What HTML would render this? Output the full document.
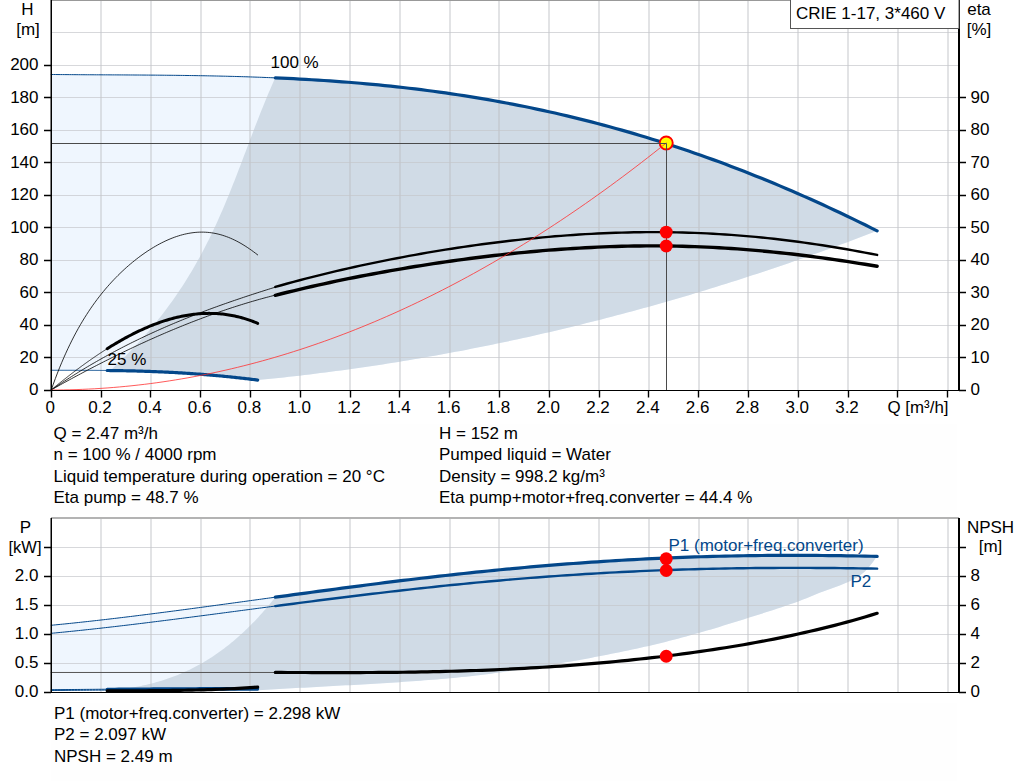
<!DOCTYPE html><html><head><meta charset="utf-8"><style>html,body{margin:0;padding:0;background:#fff;width:1024px;height:781px;overflow:hidden}svg{display:block}text{font-family:"Liberation Sans",sans-serif;font-size:17px;fill:#000}</style></head><body>
<svg width="1024" height="781" viewBox="0 0 1024 781">
<rect x="51" y="424" width="906" height="90" fill="#fefefe"/>
<rect x="51" y="703" width="906" height="78" fill="#fefefe"/>
<polygon points="51.20,74.49 58.14,74.55 65.08,74.61 72.02,74.66 78.96,74.70 85.90,74.74 92.84,74.78 99.78,74.81 106.72,74.85 113.67,74.88 120.61,74.92 127.55,74.96 134.49,75.00 141.43,75.04 148.37,75.09 155.31,75.14 162.25,75.20 169.19,75.27 176.13,75.35 183.07,75.44 190.01,75.53 196.95,75.64 203.89,75.76 210.83,75.89 217.77,76.04 224.72,76.20 231.66,76.37 238.60,76.56 245.54,76.77 252.48,76.99 259.42,77.24 266.36,77.50 273.30,77.78 280.24,78.08 287.18,78.41 294.12,78.75 301.06,79.12 308.00,79.51 314.94,79.93 321.88,80.37 328.82,80.83 335.77,81.32 342.71,81.84 349.65,82.38 356.59,82.95 363.53,83.55 370.47,84.18 377.41,84.84 384.35,85.52 391.29,86.24 398.23,86.99 405.17,87.77 412.11,88.58 419.05,89.42 425.99,90.30 432.93,91.21 439.87,92.15 446.81,93.13 453.76,94.14 460.70,95.19 467.64,96.27 474.58,97.39 481.52,98.55 488.46,99.74 495.40,100.97 502.34,102.23 509.28,103.53 516.22,104.87 523.16,106.25 530.10,107.67 537.04,109.13 543.98,110.62 550.92,112.16 557.86,113.73 564.81,115.35 571.75,117.00 578.69,118.70 585.63,120.43 592.57,122.21 599.51,124.02 606.45,125.88 613.39,127.78 620.33,129.72 627.27,131.70 634.21,133.72 641.15,135.79 648.09,137.90 655.03,140.05 661.97,142.24 668.91,144.47 675.86,146.74 682.80,149.06 689.74,151.42 696.68,153.82 703.62,156.26 710.56,158.75 717.50,161.28 724.44,163.85 731.38,166.46 738.32,169.11 745.26,171.81 752.20,174.55 759.14,177.33 766.08,180.15 773.02,183.01 779.96,185.92 786.91,188.87 793.85,191.85 800.79,194.88 807.73,197.95 814.67,201.06 821.61,204.21 828.55,207.40 835.49,210.63 842.43,213.91 849.37,217.22 856.31,220.57 863.25,223.96 870.19,227.38 877.13,230.85 877.13,230.85 871.93,232.85 866.72,234.84 861.52,236.81 856.31,238.77 851.11,240.72 845.90,242.66 840.69,244.58 835.49,246.49 830.28,248.39 825.08,250.28 819.87,252.15 814.67,254.01 809.46,255.86 804.26,257.70 799.05,259.52 793.85,261.33 788.64,263.13 783.43,264.91 778.23,266.68 773.02,268.44 767.82,270.19 762.61,271.92 757.41,273.65 752.20,275.36 747.00,277.05 741.79,278.74 736.59,280.41 731.38,282.06 726.17,283.71 720.97,285.34 715.76,286.96 710.56,288.57 705.35,290.17 700.15,291.75 694.94,293.32 689.74,294.88 684.53,296.42 679.33,297.95 674.12,299.47 668.91,300.98 663.71,302.47 658.50,303.95 653.30,305.42 648.09,306.88 642.89,308.32 637.68,309.75 632.48,311.17 627.27,312.58 622.07,313.97 616.86,315.35 611.65,316.72 606.45,318.07 601.24,319.42 596.04,320.75 590.83,322.06 585.63,323.37 580.42,324.66 575.22,325.94 570.01,327.20 564.81,328.46 559.60,329.70 554.39,330.93 549.19,332.14 543.98,333.35 538.78,334.54 533.57,335.71 528.37,336.88 523.16,338.03 517.96,339.17 512.75,340.30 507.55,341.41 502.34,342.52 497.13,343.61 491.93,344.68 486.72,345.75 481.52,346.80 476.31,347.84 471.11,348.86 465.90,349.88 460.70,350.88 455.49,351.87 450.29,352.84 445.08,353.81 439.87,354.76 434.67,355.69 429.46,356.62 424.26,357.53 419.05,358.43 413.85,359.32 408.64,360.19 403.44,361.05 398.23,361.90 393.03,362.74 387.82,363.56 382.61,364.38 377.41,365.17 372.20,365.96 367.00,366.73 361.79,367.49 356.59,368.24 351.38,368.98 346.18,369.70 340.97,370.41 335.77,371.11 330.56,371.79 325.35,372.47 320.15,373.12 314.94,373.77 309.74,374.41 304.53,375.03 299.33,375.64 294.12,376.23 288.92,376.82 283.71,377.39 278.51,377.95 273.30,378.49 268.09,379.02 262.89,379.55 257.68,380.05 257.68,380.05 255.95,379.84 254.21,379.62 252.48,379.41 250.74,379.20 249.01,378.99 247.27,378.79 245.54,378.59 243.80,378.39 242.07,378.19 240.33,378.00 238.60,377.81 236.86,377.62 235.13,377.43 233.39,377.24 231.66,377.06 229.92,376.88 228.19,376.71 226.45,376.53 224.72,376.36 222.98,376.19 221.25,376.03 219.51,375.87 217.77,375.70 216.04,375.55 214.30,375.39 212.57,375.24 210.83,375.09 209.10,374.94 207.36,374.80 205.63,374.65 203.89,374.51 202.16,374.38 200.42,374.24 198.69,374.11 196.95,373.98 195.22,373.86 193.48,373.73 191.75,373.61 190.01,373.49 188.28,373.38 186.54,373.26 184.81,373.15 183.07,373.04 181.34,372.94 179.60,372.83 177.87,372.73 176.13,372.63 174.40,372.54 172.66,372.45 170.93,372.35 169.19,372.27 167.46,372.18 165.72,372.10 163.98,372.01 162.25,371.94 160.51,371.86 158.78,371.78 157.04,371.71 155.31,371.64 153.57,371.57 151.84,371.51 150.10,371.45 148.37,371.38 146.63,371.33 144.90,371.27 143.16,371.21 141.43,371.16 139.69,371.11 137.96,371.06 136.22,371.02 134.49,370.97 132.75,370.93 131.02,370.89 129.28,370.85 127.55,370.81 125.81,370.77 124.08,370.74 122.34,370.71 120.61,370.68 118.87,370.65 117.14,370.62 115.40,370.59 113.67,370.57 111.93,370.55 110.20,370.53 108.46,370.51 106.72,370.49 104.99,370.47 103.25,370.45 101.52,370.44 99.78,370.42 98.05,370.41 96.31,370.40 94.58,370.39 92.84,370.38 91.11,370.37 89.37,370.36 87.64,370.35 85.90,370.35 84.17,370.34 82.43,370.33 80.70,370.33 78.96,370.33 77.23,370.32 75.49,370.32 73.76,370.31 72.02,370.31 70.29,370.31 68.55,370.31 66.82,370.31 65.08,370.30 63.35,370.30 61.61,370.30 59.88,370.30 58.14,370.29 56.41,370.29 54.67,370.29 52.94,370.28 51.20,370.28" fill="#eff6fe"/>
<polygon points="275.30,77.87 280.36,78.09 285.41,78.32 290.47,78.57 295.53,78.83 300.59,79.10 305.64,79.38 310.70,79.67 315.76,79.98 320.82,80.30 325.87,80.63 330.93,80.98 335.99,81.34 341.05,81.71 346.10,82.10 351.16,82.50 356.22,82.92 361.28,83.35 366.33,83.80 371.39,84.27 376.45,84.74 381.51,85.24 386.56,85.75 391.62,86.28 396.68,86.82 401.74,87.38 406.79,87.96 411.85,88.55 416.91,89.16 421.97,89.79 427.02,90.43 432.08,91.10 437.14,91.78 442.19,92.48 447.25,93.19 452.31,93.93 457.37,94.68 462.42,95.46 467.48,96.25 472.54,97.06 477.60,97.89 482.65,98.74 487.71,99.61 492.77,100.50 497.83,101.40 502.88,102.33 507.94,103.28 513.00,104.25 518.06,105.24 523.11,106.24 528.17,107.27 533.23,108.32 538.29,109.39 543.34,110.48 548.40,111.60 553.46,112.73 558.52,113.88 563.57,115.06 568.63,116.25 573.69,117.47 578.75,118.71 583.80,119.97 588.86,121.25 593.92,122.56 598.97,123.88 604.03,125.23 609.09,126.60 614.15,127.99 619.20,129.40 624.26,130.84 629.32,132.29 634.38,133.77 639.43,135.27 644.49,136.80 649.55,138.34 654.61,139.91 659.66,141.50 664.72,143.11 669.78,144.75 674.84,146.41 679.89,148.09 684.95,149.79 690.01,151.51 695.07,153.26 700.12,155.03 705.18,156.82 710.24,158.63 715.30,160.47 720.35,162.33 725.41,164.21 730.47,166.11 735.53,168.04 740.58,169.99 745.64,171.96 750.70,173.95 755.75,175.97 760.81,178.00 765.87,180.06 770.93,182.15 775.98,184.25 781.04,186.37 786.10,188.52 791.16,190.69 796.21,192.88 801.27,195.09 806.33,197.33 811.39,199.59 816.44,201.86 821.50,204.16 826.56,206.48 831.62,208.83 836.67,211.19 841.73,213.57 846.79,215.98 851.85,218.41 856.90,220.85 861.96,223.32 867.02,225.81 872.08,228.32 877.13,230.85 877.13,230.85 871.93,232.85 866.72,234.84 861.52,236.81 856.31,238.77 851.11,240.72 845.90,242.66 840.69,244.58 835.49,246.49 830.28,248.39 825.08,250.28 819.87,252.15 814.67,254.01 809.46,255.86 804.26,257.70 799.05,259.52 793.85,261.33 788.64,263.13 783.43,264.91 778.23,266.68 773.02,268.44 767.82,270.19 762.61,271.92 757.41,273.65 752.20,275.36 747.00,277.05 741.79,278.74 736.59,280.41 731.38,282.06 726.17,283.71 720.97,285.34 715.76,286.96 710.56,288.57 705.35,290.17 700.15,291.75 694.94,293.32 689.74,294.88 684.53,296.42 679.33,297.95 674.12,299.47 668.91,300.98 663.71,302.47 658.50,303.95 653.30,305.42 648.09,306.88 642.89,308.32 637.68,309.75 632.48,311.17 627.27,312.58 622.07,313.97 616.86,315.35 611.65,316.72 606.45,318.07 601.24,319.42 596.04,320.75 590.83,322.06 585.63,323.37 580.42,324.66 575.22,325.94 570.01,327.20 564.81,328.46 559.60,329.70 554.39,330.93 549.19,332.14 543.98,333.35 538.78,334.54 533.57,335.71 528.37,336.88 523.16,338.03 517.96,339.17 512.75,340.30 507.55,341.41 502.34,342.52 497.13,343.61 491.93,344.68 486.72,345.75 481.52,346.80 476.31,347.84 471.11,348.86 465.90,349.88 460.70,350.88 455.49,351.87 450.29,352.84 445.08,353.81 439.87,354.76 434.67,355.69 429.46,356.62 424.26,357.53 419.05,358.43 413.85,359.32 408.64,360.19 403.44,361.05 398.23,361.90 393.03,362.74 387.82,363.56 382.61,364.38 377.41,365.17 372.20,365.96 367.00,366.73 361.79,367.49 356.59,368.24 351.38,368.98 346.18,369.70 340.97,370.41 335.77,371.11 330.56,371.79 325.35,372.47 320.15,373.12 314.94,373.77 309.74,374.41 304.53,375.03 299.33,375.64 294.12,376.23 288.92,376.82 283.71,377.39 278.51,377.95 273.30,378.49 268.09,379.02 262.89,379.55 257.68,380.05 257.68,380.05 256.42,379.90 255.15,379.74 253.89,379.58 252.63,379.43 251.36,379.28 250.10,379.12 248.83,378.97 247.57,378.82 246.30,378.68 245.04,378.53 243.78,378.39 242.51,378.24 241.25,378.10 239.98,377.96 238.72,377.82 237.45,377.68 236.19,377.54 234.92,377.41 233.66,377.27 232.40,377.14 231.13,377.01 229.87,376.88 228.60,376.75 227.34,376.62 226.07,376.50 224.81,376.37 223.55,376.25 222.28,376.13 221.02,376.01 219.75,375.89 218.49,375.77 217.22,375.65 215.96,375.54 214.70,375.43 213.43,375.31 212.17,375.20 210.90,375.09 209.64,374.99 208.37,374.88 207.11,374.78 205.84,374.67 204.58,374.57 203.32,374.47 202.05,374.37 200.79,374.27 199.52,374.17 198.26,374.08 196.99,373.99 195.73,373.89 194.47,373.80 193.20,373.71 191.94,373.62 190.67,373.54 189.41,373.45 188.14,373.37 186.88,373.28 185.62,373.20 184.35,373.12 183.09,373.04 181.82,372.97 180.56,372.89 179.29,372.82 178.03,372.74 176.76,372.67 175.50,372.60 174.24,372.53 172.97,372.46 171.71,372.40 170.44,372.33 169.18,372.27 167.91,372.20 166.65,372.14 165.39,372.08 164.12,372.02 162.86,371.96 161.59,371.91 160.33,371.85 159.06,371.80 157.80,371.74 156.53,371.69 155.27,371.64 154.01,371.59 152.74,371.54 151.48,371.50 150.21,371.45 148.95,371.40 147.68,371.36 146.42,371.32 145.16,371.28 143.89,371.24 142.63,371.20 141.36,371.16 140.10,371.12 138.83,371.09 137.57,371.05 136.31,371.02 135.04,370.98 133.78,370.95 132.51,370.92 131.25,370.89 129.98,370.86 128.72,370.83 127.45,370.81 126.19,370.78 124.93,370.76 123.66,370.73 122.40,370.71 121.13,370.69 119.87,370.66 118.60,370.64 117.34,370.62 116.08,370.60 114.81,370.59 113.55,370.57 112.28,370.55 111.02,370.54 109.75,370.52 108.49,370.51 107.22,370.49 110.43,370.49 113.09,368.03 115.71,365.57 118.30,363.11 120.84,360.66 123.35,358.20 125.82,355.74 128.26,353.28 130.66,350.82 133.02,348.36 135.35,345.90 137.65,343.44 139.91,340.98 142.14,338.52 144.33,336.07 146.49,333.61 148.62,331.15 150.71,328.69 152.78,326.23 154.81,323.77 156.82,321.31 158.79,318.85 160.73,316.39 162.64,313.93 164.53,311.47 166.39,309.02 168.21,306.56 170.01,304.10 171.79,301.64 173.53,299.18 175.25,296.72 176.95,294.26 178.61,291.80 180.26,289.34 181.87,286.88 183.47,284.43 185.04,281.97 186.59,279.51 188.11,277.05 189.61,274.59 191.09,272.13 192.55,269.67 193.99,267.21 195.40,264.75 196.80,262.29 198.18,259.84 199.53,257.38 200.87,254.92 202.19,252.46 203.49,250.00 204.77,247.54 206.04,245.08 207.29,242.62 208.52,240.16 209.73,237.70 210.94,235.25 212.12,232.79 213.29,230.33 214.45,227.87 215.59,225.41 216.72,222.95 217.84,220.49 218.94,218.03 220.03,215.57 221.11,213.11 222.18,210.65 223.24,208.20 224.29,205.74 225.33,203.28 226.36,200.82 227.37,198.36 228.39,195.90 229.39,193.44 230.38,190.98 231.37,188.52 232.35,186.06 233.32,183.61 234.29,181.15 235.25,178.69 236.21,176.23 237.16,173.77 238.11,171.31 239.06,168.85 240.00,166.39 240.94,163.93 241.87,161.47 242.80,159.02 243.73,156.56 244.66,154.10 245.59,151.64 246.52,149.18 247.45,146.72 248.38,144.26 249.31,141.80 250.24,139.34 251.17,136.88 252.11,134.42 253.05,131.97 253.99,129.51 254.93,127.05 255.88,124.59 256.83,122.13 257.79,119.67 258.75,117.21 259.72,114.75 260.70,112.29 261.68,109.83 262.67,107.38 263.66,104.92 264.66,102.46 265.67,100.00 266.69,97.54 267.72,95.08 268.76,92.62 269.81,90.16 270.87,87.70 271.94,85.24 273.02,82.79 274.11,80.33 275.22,77.87" fill="#d0dbe6"/>
<path d="M101 1V390M151 1V390M201 1V390M250 1V390M300 1V390M350 1V390M400 1V390M450 1V390M499 1V390M549 1V390M599 1V390M649 1V390M699 1V390M748 1V390M798 1V390M848 1V390M898 1V390M948 1V390" stroke="#b9bcc0" stroke-opacity="0.42" stroke-width="2" fill="none"/>
<path d="M52 357.5H958M52 325.5H958M52 292.5H958M52 260.5H958M52 227.5H958M52 195.5H958M52 162.5H958M52 130.5H958M52 97.5H958M52 65.5H958M52 32.5H958" stroke="#c4c6ca" stroke-opacity="0.68" stroke-width="1" fill="none"/>
<path d="M51 0.5H959" stroke="#999" stroke-width="1"/>
<path d="M51.20 74.49L53.46 74.51L55.73 74.53L57.99 74.55L60.25 74.57L62.52 74.59L64.78 74.60L67.05 74.62L69.31 74.64L71.57 74.65L73.84 74.67L76.10 74.68L78.36 74.70L80.63 74.71L82.89 74.72L85.15 74.74L87.42 74.75L89.68 74.76L91.95 74.77L94.21 74.79L96.47 74.80L98.74 74.81L101.00 74.82L103.26 74.83L105.53 74.84L107.79 74.85L110.05 74.86L112.32 74.88L114.58 74.89L116.85 74.90L119.11 74.91L121.37 74.92L123.64 74.93L125.90 74.95L128.16 74.96L130.43 74.97L132.69 74.98L134.95 75.00L137.22 75.01L139.48 75.03L141.75 75.04L144.01 75.06L146.27 75.07L148.54 75.09L150.80 75.11L153.06 75.12L155.33 75.14L157.59 75.16L159.85 75.18L162.12 75.20L164.38 75.22L166.65 75.25L168.91 75.27L171.17 75.29L173.44 75.32L175.70 75.34L177.96 75.37L180.23 75.40L182.49 75.43L184.75 75.46L187.02 75.49L189.28 75.52L191.55 75.55L193.81 75.59L196.07 75.62L198.34 75.66L200.60 75.70L202.86 75.74L205.13 75.78L207.39 75.82L209.65 75.87L211.92 75.91L214.18 75.96L216.45 76.01L218.71 76.06L220.97 76.11L223.24 76.16L225.50 76.21L227.76 76.27L230.03 76.33L232.29 76.39L234.55 76.45L236.82 76.51L239.08 76.58L241.35 76.64L243.61 76.71L245.87 76.78L248.14 76.85L250.40 76.93L252.66 77.00L254.93 77.08L257.19 77.16L259.45 77.24L261.72 77.32L263.98 77.41L266.25 77.50L268.51 77.59L270.77 77.68L273.04 77.77L275.30 77.87" stroke="#03478a" stroke-width="1" fill="none" stroke-linecap="round" stroke-linejoin="round" />
<path d="M51.20 370.28L51.77 370.28L52.33 370.28L52.90 370.28L53.46 370.29L54.03 370.29L54.60 370.29L55.16 370.29L55.73 370.29L56.29 370.29L56.86 370.29L57.43 370.29L57.99 370.29L58.56 370.29L59.12 370.30L59.69 370.30L60.25 370.30L60.82 370.30L61.39 370.30L61.95 370.30L62.52 370.30L63.08 370.30L63.65 370.30L64.22 370.30L64.78 370.30L65.35 370.30L65.91 370.30L66.48 370.30L67.05 370.31L67.61 370.31L68.18 370.31L68.74 370.31L69.31 370.31L69.88 370.31L70.44 370.31L71.01 370.31L71.57 370.31L72.14 370.31L72.70 370.31L73.27 370.31L73.84 370.32L74.40 370.32L74.97 370.32L75.53 370.32L76.10 370.32L76.67 370.32L77.23 370.32L77.80 370.32L78.36 370.32L78.93 370.33L79.50 370.33L80.06 370.33L80.63 370.33L81.19 370.33L81.76 370.33L82.33 370.33L82.89 370.34L83.46 370.34L84.02 370.34L84.59 370.34L85.15 370.34L85.72 370.35L86.29 370.35L86.85 370.35L87.42 370.35L87.98 370.35L88.55 370.36L89.12 370.36L89.68 370.36L90.25 370.36L90.81 370.37L91.38 370.37L91.95 370.37L92.51 370.38L93.08 370.38L93.64 370.38L94.21 370.39L94.78 370.39L95.34 370.39L95.91 370.40L96.47 370.40L97.04 370.40L97.60 370.41L98.17 370.41L98.74 370.42L99.30 370.42L99.87 370.42L100.43 370.43L101.00 370.43L101.57 370.44L102.13 370.44L102.70 370.45L103.26 370.45L103.83 370.46L104.40 370.46L104.96 370.47L105.53 370.47L106.09 370.48L106.66 370.49L107.22 370.49" stroke="#03478a" stroke-width="1" fill="none" stroke-linecap="round" stroke-linejoin="round" />
<path d="M51.20 389.99L53.46 388.44L55.73 386.91L57.99 385.39L60.25 383.88L62.52 382.38L64.78 380.90L67.05 379.43L69.31 377.98L71.57 376.54L73.84 375.11L76.10 373.70L78.36 372.29L80.63 370.90L82.89 369.53L85.15 368.16L87.42 366.81L89.68 365.47L91.95 364.14L94.21 362.83L96.47 361.53L98.74 360.24L101.00 358.96L103.26 357.69L105.53 356.43L107.79 355.19L110.05 353.95L112.32 352.73L114.58 351.52L116.85 350.32L119.11 349.13L121.37 347.95L123.64 346.79L125.90 345.63L128.16 344.48L130.43 343.35L132.69 342.22L134.95 341.11L137.22 340.00L139.48 338.90L141.75 337.82L144.01 336.74L146.27 335.68L148.54 334.62L150.80 333.57L153.06 332.53L155.33 331.50L157.59 330.48L159.85 329.47L162.12 328.47L164.38 327.48L166.65 326.49L168.91 325.51L171.17 324.55L173.44 323.59L175.70 322.63L177.96 321.69L180.23 320.75L182.49 319.83L184.75 318.90L187.02 317.99L189.28 317.09L191.55 316.19L193.81 315.30L196.07 314.41L198.34 313.54L200.60 312.67L202.86 311.81L205.13 310.95L207.39 310.10L209.65 309.26L211.92 308.42L214.18 307.59L216.45 306.77L218.71 305.95L220.97 305.14L223.24 304.33L225.50 303.53L227.76 302.74L230.03 301.95L232.29 301.17L234.55 300.39L236.82 299.61L239.08 298.85L241.35 298.08L243.61 297.32L245.87 296.57L248.14 295.82L250.40 295.08L252.66 294.34L254.93 293.60L257.19 292.87L259.45 292.14L261.72 291.42L263.98 290.70L266.25 289.98L268.51 289.27L270.77 288.56L273.04 287.86L275.30 287.16" stroke="#000" stroke-width="0.8" fill="none" stroke-linecap="round" stroke-linejoin="round" />
<path d="M51.20 389.90L53.46 388.63L55.73 387.36L57.99 386.10L60.25 384.85L62.52 383.60L64.78 382.36L67.05 381.12L69.31 379.89L71.57 378.66L73.84 377.43L76.10 376.22L78.36 375.00L80.63 373.80L82.89 372.60L85.15 371.40L87.42 370.21L89.68 369.02L91.95 367.85L94.21 366.67L96.47 365.50L98.74 364.34L101.00 363.19L103.26 362.04L105.53 360.89L107.79 359.75L110.05 358.62L112.32 357.49L114.58 356.37L116.85 355.26L119.11 354.15L121.37 353.05L123.64 351.95L125.90 350.86L128.16 349.78L130.43 348.70L132.69 347.63L134.95 346.57L137.22 345.51L139.48 344.46L141.75 343.42L144.01 342.38L146.27 341.35L148.54 340.32L150.80 339.31L153.06 338.30L155.33 337.29L157.59 336.30L159.85 335.31L162.12 334.32L164.38 333.35L166.65 332.38L168.91 331.42L171.17 330.46L173.44 329.52L175.70 328.58L177.96 327.65L180.23 326.72L182.49 325.80L184.75 324.89L187.02 323.99L189.28 323.10L191.55 322.21L193.81 321.33L196.07 320.46L198.34 319.59L200.60 318.74L202.86 317.89L205.13 317.05L207.39 316.21L209.65 315.39L211.92 314.57L214.18 313.76L216.45 312.96L218.71 312.17L220.97 311.39L223.24 310.61L225.50 309.84L227.76 309.08L230.03 308.33L232.29 307.59L234.55 306.85L236.82 306.13L239.08 305.41L241.35 304.70L243.61 304.00L245.87 303.31L248.14 302.63L250.40 301.95L252.66 301.29L254.93 300.63L257.19 299.98L259.45 299.34L261.72 298.71L263.98 298.09L266.25 297.48L268.51 296.88L270.77 296.29L273.04 295.70L275.30 295.13" stroke="#000" stroke-width="0.8" fill="none" stroke-linecap="round" stroke-linejoin="round" />
<path d="M51.20 390.04L53.29 384.16L55.37 378.50L57.46 373.05L59.54 367.81L61.63 362.76L63.71 357.90L65.80 353.21L67.89 348.69L69.97 344.33L72.06 340.13L74.14 336.08L76.23 332.16L78.31 328.38L80.40 324.73L82.49 321.21L84.57 317.79L86.66 314.50L88.74 311.30L90.83 308.21L92.91 305.21L95.00 302.31L97.09 299.50L99.17 296.77L101.26 294.12L103.34 291.55L105.43 289.05L107.51 286.63L109.60 284.27L111.68 281.98L113.77 279.75L115.86 277.59L117.94 275.48L120.03 273.43L122.11 271.43L124.20 269.49L126.28 267.60L128.37 265.77L130.46 263.98L132.54 262.24L134.63 260.55L136.71 258.91L138.80 257.31L140.88 255.76L142.97 254.26L145.06 252.80L147.14 251.39L149.23 250.03L151.31 248.71L153.40 247.43L155.48 246.21L157.57 245.03L159.66 243.89L161.74 242.81L163.83 241.77L165.91 240.78L168.00 239.84L170.08 238.95L172.17 238.11L174.26 237.32L176.34 236.59L178.43 235.91L180.51 235.28L182.60 234.70L184.68 234.18L186.77 233.72L188.86 233.32L190.94 232.97L193.03 232.68L195.11 232.45L197.20 232.28L199.28 232.17L201.37 232.13L203.46 232.14L205.54 232.22L207.63 232.37L209.71 232.57L211.80 232.85L213.88 233.18L215.97 233.58L218.06 234.05L220.14 234.59L222.23 235.18L224.31 235.85L226.40 236.58L228.48 237.37L230.57 238.23L232.65 239.16L234.74 240.15L236.83 241.20L238.91 242.31L241.00 243.48L243.08 244.72L245.17 246.01L247.25 247.36L249.34 248.77L251.43 250.23L253.51 251.74L255.60 253.30L257.68 254.91" stroke="#000" stroke-width="0.8" fill="none" stroke-linecap="round" stroke-linejoin="round" />
<path d="M51.20 389.91L51.77 389.44L52.33 388.98L52.90 388.51L53.46 388.05L54.03 387.59L54.60 387.13L55.16 386.67L55.73 386.21L56.29 385.75L56.86 385.29L57.43 384.83L57.99 384.38L58.56 383.92L59.12 383.47L59.69 383.01L60.25 382.56L60.82 382.11L61.39 381.66L61.95 381.21L62.52 380.76L63.08 380.31L63.65 379.86L64.22 379.42L64.78 378.97L65.35 378.53L65.91 378.08L66.48 377.64L67.05 377.20L67.61 376.76L68.18 376.32L68.74 375.88L69.31 375.44L69.88 375.00L70.44 374.57L71.01 374.13L71.57 373.70L72.14 373.27L72.70 372.83L73.27 372.40L73.84 371.97L74.40 371.54L74.97 371.12L75.53 370.69L76.10 370.26L76.67 369.84L77.23 369.42L77.80 368.99L78.36 368.57L78.93 368.15L79.50 367.73L80.06 367.32L80.63 366.90L81.19 366.48L81.76 366.07L82.33 365.65L82.89 365.24L83.46 364.83L84.02 364.42L84.59 364.01L85.15 363.60L85.72 363.20L86.29 362.79L86.85 362.39L87.42 361.98L87.98 361.58L88.55 361.18L89.12 360.78L89.68 360.38L90.25 359.99L90.81 359.59L91.38 359.20L91.95 358.80L92.51 358.41L93.08 358.02L93.64 357.63L94.21 357.24L94.78 356.85L95.34 356.47L95.91 356.08L96.47 355.70L97.04 355.32L97.60 354.94L98.17 354.56L98.74 354.18L99.30 353.80L99.87 353.43L100.43 353.05L101.00 352.68L101.57 352.31L102.13 351.94L102.70 351.57L103.26 351.20L103.83 350.83L104.40 350.47L104.96 350.11L105.53 349.74L106.09 349.38L106.66 349.02L107.22 348.67" stroke="#000" stroke-width="0.8" fill="none" stroke-linecap="round" stroke-linejoin="round" />
<path d="M107.22 348.67L108.74 347.71L110.26 346.77L111.78 345.83L113.30 344.91L114.82 344.00L116.34 343.10L117.86 342.21L119.38 341.33L120.90 340.46L122.42 339.60L123.94 338.76L125.46 337.92L126.98 337.10L128.50 336.29L130.02 335.49L131.54 334.71L133.06 333.93L134.58 333.17L136.10 332.42L137.62 331.68L139.14 330.96L140.66 330.24L142.18 329.54L143.70 328.86L145.22 328.18L146.74 327.52L148.26 326.88L149.78 326.24L151.30 325.62L152.82 325.02L154.34 324.43L155.86 323.85L157.38 323.29L158.90 322.74L160.42 322.20L161.94 321.68L163.46 321.17L164.98 320.68L166.50 320.20L168.02 319.74L169.54 319.30L171.06 318.86L172.58 318.45L174.10 318.05L175.62 317.66L177.13 317.29L178.65 316.94L180.17 316.60L181.69 316.28L183.21 315.97L184.73 315.68L186.25 315.41L187.77 315.15L189.29 314.91L190.81 314.69L192.33 314.49L193.85 314.30L195.37 314.12L196.89 313.97L198.41 313.83L199.93 313.71L201.45 313.61L202.97 313.53L204.49 313.46L206.01 313.41L207.53 313.38L209.05 313.37L210.57 313.38L212.09 313.40L213.61 313.45L215.13 313.51L216.65 313.59L218.17 313.69L219.69 313.81L221.21 313.95L222.73 314.11L224.25 314.28L225.77 314.48L227.29 314.70L228.81 314.93L230.33 315.19L231.85 315.47L233.37 315.76L234.89 316.08L236.41 316.42L237.93 316.78L239.45 317.16L240.97 317.56L242.49 317.98L244.01 318.42L245.53 318.88L247.04 319.37L248.56 319.87L250.08 320.40L251.60 320.95L253.12 321.52L254.64 322.11L256.16 322.73L257.68 323.37" stroke="#000" stroke-width="3.0" fill="none" stroke-linecap="round" stroke-linejoin="round" />
<path d="M275.30 286.96L281.38 285.23L287.46 283.53L293.54 281.87L299.62 280.25L305.70 278.65L311.77 277.09L317.85 275.56L323.93 274.06L330.01 272.59L336.09 271.14L342.17 269.73L348.25 268.34L354.33 266.98L360.41 265.65L366.49 264.35L372.57 263.07L378.65 261.82L384.72 260.59L390.80 259.39L396.88 258.21L402.96 257.06L409.04 255.93L415.12 254.82L421.20 253.75L427.28 252.69L433.36 251.66L439.44 250.65L445.52 249.67L451.59 248.72L457.67 247.78L463.75 246.88L469.83 245.99L475.91 245.13L481.99 244.30L488.07 243.49L494.15 242.71L500.23 241.95L506.31 241.22L512.39 240.51L518.46 239.83L524.54 239.18L530.62 238.55L536.70 237.96L542.78 237.38L548.86 236.84L554.94 236.32L561.02 235.84L567.10 235.38L573.18 234.95L579.26 234.54L585.34 234.17L591.41 233.83L597.49 233.52L603.57 233.24L609.65 232.99L615.73 232.77L621.81 232.58L627.89 232.43L633.97 232.30L640.05 232.21L646.13 232.15L652.21 232.13L658.28 232.13L664.36 232.18L670.44 232.25L676.52 232.36L682.60 232.50L688.68 232.68L694.76 232.89L700.84 233.13L706.92 233.41L713.00 233.73L719.08 234.08L725.15 234.46L731.23 234.88L737.31 235.34L743.39 235.83L749.47 236.35L755.55 236.91L761.63 237.50L767.71 238.13L773.79 238.79L779.87 239.49L785.95 240.22L792.03 240.98L798.10 241.78L804.18 242.60L810.26 243.47L816.34 244.36L822.42 245.28L828.50 246.24L834.58 247.22L840.66 248.24L846.74 249.28L852.82 250.36L858.90 251.46L864.97 252.58L871.05 253.73L877.13 254.91" stroke="#000" stroke-width="2.4" fill="none" stroke-linecap="round" stroke-linejoin="round" />
<path d="M275.30 295.32L281.38 293.77L287.46 292.26L293.54 290.78L299.62 289.32L305.70 287.90L311.77 286.51L317.85 285.14L323.93 283.80L330.01 282.48L336.09 281.19L342.17 279.93L348.25 278.69L354.33 277.47L360.41 276.28L366.49 275.11L372.57 273.96L378.65 272.84L384.72 271.74L390.80 270.65L396.88 269.60L402.96 268.56L409.04 267.54L415.12 266.54L421.20 265.57L427.28 264.62L433.36 263.68L439.44 262.77L445.52 261.88L451.59 261.02L457.67 260.17L463.75 259.34L469.83 258.54L475.91 257.76L481.99 257.00L488.07 256.26L494.15 255.55L500.23 254.86L506.31 254.19L512.39 253.54L518.46 252.92L524.54 252.32L530.62 251.75L536.70 251.20L542.78 250.68L548.86 250.18L554.94 249.71L561.02 249.26L567.10 248.84L573.18 248.45L579.26 248.08L585.34 247.74L591.41 247.43L597.49 247.14L603.57 246.89L609.65 246.66L615.73 246.46L621.81 246.29L627.89 246.15L633.97 246.04L640.05 245.96L646.13 245.91L652.21 245.90L658.28 245.91L664.36 245.95L670.44 246.02L676.52 246.13L682.60 246.27L688.68 246.43L694.76 246.63L700.84 246.87L706.92 247.13L713.00 247.42L719.08 247.75L725.15 248.11L731.23 248.49L737.31 248.91L743.39 249.37L749.47 249.85L755.55 250.36L761.63 250.90L767.71 251.48L773.79 252.08L779.87 252.71L785.95 253.37L792.03 254.06L798.10 254.78L804.18 255.52L810.26 256.29L816.34 257.09L822.42 257.91L828.50 258.75L834.58 259.62L840.66 260.51L846.74 261.42L852.82 262.35L858.90 263.31L864.97 264.27L871.05 265.26L877.13 266.26" stroke="#000" stroke-width="3.4" fill="none" stroke-linecap="round" stroke-linejoin="round" />
<path d="M107.22 370.49L108.74 370.51L110.26 370.53L111.78 370.55L113.30 370.57L114.82 370.59L116.34 370.61L117.86 370.63L119.38 370.66L120.90 370.68L122.42 370.71L123.94 370.74L125.46 370.77L126.98 370.80L128.50 370.83L130.02 370.86L131.54 370.90L133.06 370.93L134.58 370.97L136.10 371.01L137.62 371.05L139.14 371.09L140.66 371.14L142.18 371.18L143.70 371.23L145.22 371.28L146.74 371.33L148.26 371.38L149.78 371.43L151.30 371.49L152.82 371.55L154.34 371.60L155.86 371.66L157.38 371.73L158.90 371.79L160.42 371.85L161.94 371.92L163.46 371.99L164.98 372.06L166.50 372.13L168.02 372.21L169.54 372.28L171.06 372.36L172.58 372.44L174.10 372.52L175.62 372.61L177.13 372.69L178.65 372.78L180.17 372.87L181.69 372.96L183.21 373.05L184.73 373.15L186.25 373.24L187.77 373.34L189.29 373.44L190.81 373.55L192.33 373.65L193.85 373.76L195.37 373.87L196.89 373.98L198.41 374.09L199.93 374.21L201.45 374.32L202.97 374.44L204.49 374.56L206.01 374.69L207.53 374.81L209.05 374.94L210.57 375.07L212.09 375.20L213.61 375.33L215.13 375.47L216.65 375.60L218.17 375.74L219.69 375.88L221.21 376.03L222.73 376.17L224.25 376.32L225.77 376.47L227.29 376.62L228.81 376.77L230.33 376.93L231.85 377.08L233.37 377.24L234.89 377.40L236.41 377.57L237.93 377.73L239.45 377.90L240.97 378.07L242.49 378.24L244.01 378.41L245.53 378.59L247.04 378.76L248.56 378.94L250.08 379.12L251.60 379.30L253.12 379.49L254.64 379.68L256.16 379.86L257.68 380.05" stroke="#03478a" stroke-width="3.2" fill="none" stroke-linecap="round" stroke-linejoin="round" />
<path d="M275.30 77.87L281.38 78.14L287.46 78.42L293.54 78.72L299.62 79.04L305.70 79.38L311.77 79.73L317.85 80.11L323.93 80.50L330.01 80.91L336.09 81.34L342.17 81.80L348.25 82.27L354.33 82.76L360.41 83.28L366.49 83.82L372.57 84.37L378.65 84.96L384.72 85.56L390.80 86.19L396.88 86.84L402.96 87.52L409.04 88.22L415.12 88.94L421.20 89.69L427.28 90.47L433.36 91.27L439.44 92.09L445.52 92.95L451.59 93.82L457.67 94.73L463.75 95.66L469.83 96.62L475.91 97.61L481.99 98.63L488.07 99.67L494.15 100.74L500.23 101.84L506.31 102.97L512.39 104.13L518.46 105.32L524.54 106.53L530.62 107.78L536.70 109.06L542.78 110.36L548.86 111.70L554.94 113.06L561.02 114.46L567.10 115.89L573.18 117.35L579.26 118.84L585.34 120.36L591.41 121.91L597.49 123.49L603.57 125.11L609.65 126.75L615.73 128.43L621.81 130.14L627.89 131.88L633.97 133.65L640.05 135.46L646.13 137.30L652.21 139.16L658.28 141.07L664.36 143.00L670.44 144.97L676.52 146.96L682.60 148.99L688.68 151.06L694.76 153.15L700.84 155.28L706.92 157.44L713.00 159.63L719.08 161.86L725.15 164.12L731.23 166.41L737.31 168.73L743.39 171.08L749.47 173.47L755.55 175.89L761.63 178.34L767.71 180.82L773.79 183.33L779.87 185.88L785.95 188.46L792.03 191.07L798.10 193.71L804.18 196.38L810.26 199.08L816.34 201.82L822.42 204.58L828.50 207.38L834.58 210.21L840.66 213.07L846.74 215.96L852.82 218.87L858.90 221.82L864.97 224.80L871.05 227.81L877.13 230.85" stroke="#03478a" stroke-width="3.2" fill="none" stroke-linecap="round" stroke-linejoin="round" />
<circle cx="666.23" cy="143.00" r="6.5" fill="#ffff00" stroke="#ff0000" stroke-width="1.9"/>
<path d="M51.20 390.00L57.41 389.97L63.62 389.90L69.84 389.77L76.05 389.60L82.26 389.37L88.47 389.09L94.69 388.77L100.90 388.39L107.11 387.96L113.32 387.48L119.54 386.95L125.75 386.37L131.96 385.74L138.17 385.06L144.39 384.33L150.60 383.55L156.81 382.72L163.02 381.83L169.24 380.90L175.45 379.92L181.66 378.89L187.87 377.80L194.09 376.67L200.30 375.48L206.51 374.25L212.72 372.96L218.94 371.63L225.15 370.24L231.36 368.81L237.57 367.32L243.79 365.78L250.00 364.19L256.21 362.56L262.42 360.87L268.63 359.13L274.85 357.34L281.06 355.50L287.27 353.61L293.48 351.67L299.70 349.68L305.91 347.64L312.12 345.54L318.33 343.40L324.55 341.21L330.76 338.97L336.97 336.67L343.18 334.33L349.40 331.94L355.61 329.49L361.82 327.00L368.03 324.45L374.25 321.86L380.46 319.21L386.67 316.51L392.88 313.77L399.10 310.97L405.31 308.12L411.52 305.22L417.73 302.27L423.95 299.27L430.16 296.23L436.37 293.13L442.58 289.98L448.80 286.77L455.01 283.52L461.22 280.22L467.43 276.87L473.64 273.47L479.86 270.02L486.07 266.51L492.28 262.96L498.49 259.36L504.71 255.70L510.92 252.00L517.13 248.24L523.34 244.44L529.56 240.58L535.77 236.67L541.98 232.72L548.19 228.71L554.41 224.65L560.62 220.55L566.83 216.39L573.04 212.18L579.26 207.92L585.47 203.61L591.68 199.25L597.89 194.84L604.11 190.38L610.32 185.87L616.53 181.31L622.74 176.69L628.96 172.03L635.17 167.32L641.38 162.56L647.59 157.74L653.81 152.88L660.02 147.96L666.23 143.00" stroke="#ff3030" stroke-width="0.8" fill="none" stroke-linecap="round" stroke-linejoin="round" />
<path d="M51 143.5H666.5V390" stroke="#4a4a4a" stroke-width="1" fill="none"/>
<circle cx="666.23" cy="232.1" r="6.45" fill="#ff0000"/>
<circle cx="666.23" cy="246.0" r="6.45" fill="#ff0000"/>
<path d="M51.25 0V391" stroke="#000" stroke-width="1.5"/>
<path d="M959 0V391" stroke="#000" stroke-width="2"/>
<path d="M51 390.5H960" stroke="#000" stroke-width="1.2"/>
<path d="M44 390.5H51M44 357.5H51M44 325.5H51M44 292.5H51M44 260.5H51M44 227.5H51M44 195.5H51M44 162.5H51M44 130.5H51M44 97.5H51M44 65.5H51M959 390.5H966M959 357.5H966M959 325.5H966M959 292.5H966M959 260.5H966M959 227.5H966M959 195.5H966M959 162.5H966M959 130.5H966M959 97.5H966M51.5 390V397.5M101.5 390V397.5M150.5 390V397.5M200.5 390V397.5M250.5 390V397.5M300.5 390V397.5M350.5 390V397.5M399.5 390V397.5M449.5 390V397.5M499.5 390V397.5M549.5 390V397.5M599.5 390V397.5M648.5 390V397.5M698.5 390V397.5M748.5 390V397.5M798.5 390V397.5M848.5 390V397.5M897.5 390V397.5M947.5 390V397.5" stroke="#000" stroke-width="1.4"/>
<rect x="790.5" y="-1" width="168.5" height="29.5" fill="#fff" stroke="#555" stroke-width="1"/>
<text x="796" y="19">CRIE 1-17, 3*460 V</text>
<text x="27.5" y="15" text-anchor="middle">H</text>
<text x="28" y="34.6" text-anchor="middle">[m]</text>
<text x="38.5" y="395.0" text-anchor="end">0</text>
<text x="38.5" y="362.5" text-anchor="end">20</text>
<text x="38.5" y="330.0" text-anchor="end">40</text>
<text x="38.5" y="297.5" text-anchor="end">60</text>
<text x="38.5" y="265.0" text-anchor="end">80</text>
<text x="38.5" y="232.5" text-anchor="end">100</text>
<text x="38.5" y="200.0" text-anchor="end">120</text>
<text x="38.5" y="167.5" text-anchor="end">140</text>
<text x="38.5" y="135.0" text-anchor="end">160</text>
<text x="38.5" y="102.5" text-anchor="end">180</text>
<text x="38.5" y="70.0" text-anchor="end">200</text>
<text x="979" y="14.8" text-anchor="middle">eta</text>
<text x="979" y="34.5" text-anchor="middle">[%]</text>
<text x="970.5" y="395.0">0</text>
<text x="970.5" y="362.5">10</text>
<text x="970.5" y="330.0">20</text>
<text x="970.5" y="297.5">30</text>
<text x="970.5" y="265.0">40</text>
<text x="970.5" y="232.5">50</text>
<text x="970.5" y="200.0">60</text>
<text x="970.5" y="167.5">70</text>
<text x="970.5" y="135.0">80</text>
<text x="970.5" y="102.5">90</text>
<text x="50.2" y="413" text-anchor="middle">0</text>
<text x="100.0" y="413" text-anchor="middle">0.2</text>
<text x="149.8" y="413" text-anchor="middle">0.4</text>
<text x="199.6" y="413" text-anchor="middle">0.6</text>
<text x="249.4" y="413" text-anchor="middle">0.8</text>
<text x="299.2" y="413" text-anchor="middle">1.0</text>
<text x="349.0" y="413" text-anchor="middle">1.2</text>
<text x="398.8" y="413" text-anchor="middle">1.4</text>
<text x="448.6" y="413" text-anchor="middle">1.6</text>
<text x="498.4" y="413" text-anchor="middle">1.8</text>
<text x="548.2" y="413" text-anchor="middle">2.0</text>
<text x="598.0" y="413" text-anchor="middle">2.2</text>
<text x="647.8" y="413" text-anchor="middle">2.4</text>
<text x="697.6" y="413" text-anchor="middle">2.6</text>
<text x="747.4" y="413" text-anchor="middle">2.8</text>
<text x="797.2" y="413" text-anchor="middle">3.0</text>
<text x="847.0" y="413" text-anchor="middle">3.2</text>
<text x="887.5" y="413" textLength="61" lengthAdjust="spacingAndGlyphs">Q [m³/h]</text>
<text x="270.5" y="67.6">100 %</text>
<text x="107.5" y="364.8">25 %</text>
<text x="53.5" y="438.8">Q = 2.47 m³/h</text>
<text x="439" y="438.8">H = 152 m</text>
<text x="53.5" y="460.3">n = 100 % / 4000 rpm</text>
<text x="439" y="460.3">Pumped liquid = Water</text>
<text x="53.5" y="481.7">Liquid temperature during operation = 20 °C</text>
<text x="439" y="481.7">Density = 998.2 kg/m³</text>
<text x="53.5" y="503.2">Eta pump = 48.7 %</text>
<text x="439" y="503.2">Eta pump+motor+freq.converter = 44.4 %</text>
<polygon points="51.20,625.28 58.14,624.60 65.08,623.91 72.02,623.19 78.96,622.46 85.90,621.70 92.84,620.94 99.78,620.15 106.72,619.35 113.67,618.54 120.61,617.71 127.55,616.87 134.49,616.01 141.43,615.15 148.37,614.28 155.31,613.39 162.25,612.50 169.19,611.59 176.13,610.68 183.07,609.77 190.01,608.84 196.95,607.91 203.89,606.98 210.83,606.04 217.77,605.09 224.72,604.15 231.66,603.20 238.60,602.24 245.54,601.29 252.48,600.34 259.42,599.38 266.36,598.43 273.30,597.48 280.24,596.53 287.18,595.58 294.12,594.63 301.06,593.68 308.00,592.74 314.94,591.81 321.88,590.87 328.82,589.95 335.77,589.02 342.71,588.11 349.65,587.20 356.59,586.29 363.53,585.40 370.47,584.51 377.41,583.63 384.35,582.76 391.29,581.89 398.23,581.04 405.17,580.19 412.11,579.36 419.05,578.54 425.99,577.72 432.93,576.92 439.87,576.13 446.81,575.35 453.76,574.58 460.70,573.83 467.64,573.08 474.58,572.35 481.52,571.64 488.46,570.93 495.40,570.24 502.34,569.56 509.28,568.90 516.22,568.25 523.16,567.62 530.10,567.00 537.04,566.40 543.98,565.81 550.92,565.23 557.86,564.67 564.81,564.13 571.75,563.60 578.69,563.09 585.63,562.60 592.57,562.12 599.51,561.65 606.45,561.21 613.39,560.78 620.33,560.36 627.27,559.96 634.21,559.58 641.15,559.22 648.09,558.87 655.03,558.54 661.97,558.22 668.91,557.92 675.86,557.64 682.80,557.38 689.74,557.13 696.68,556.90 703.62,556.68 710.56,556.48 717.50,556.30 724.44,556.13 731.38,555.98 738.32,555.85 745.26,555.73 752.20,555.63 759.14,555.55 766.08,555.48 773.02,555.43 779.96,555.39 786.91,555.36 793.85,555.36 800.79,555.36 807.73,555.39 814.67,555.42 821.61,555.48 828.55,555.54 835.49,555.62 842.43,555.71 849.37,555.82 856.31,555.94 863.25,556.07 870.19,556.22 877.13,556.38 877.13,556.06 872.98,562.00 868.83,567.29 864.68,571.71 860.52,575.09 856.37,577.74 852.22,579.97 848.07,581.95 843.91,583.79 839.76,585.46 835.61,586.99 831.45,588.46 827.30,589.91 823.15,591.40 819.00,593.00 814.84,594.68 810.69,596.41 806.54,598.14 802.39,599.81 798.23,601.40 794.08,602.90 789.93,604.37 785.78,605.80 781.62,607.21 777.47,608.58 773.32,609.93 769.17,611.27 765.01,612.59 760.86,613.91 756.71,615.21 752.56,616.52 748.40,617.83 744.25,619.14 740.10,620.45 735.95,621.76 731.79,623.06 727.64,624.35 723.49,625.62 719.34,626.89 715.18,628.14 711.03,629.38 706.88,630.59 702.73,631.79 698.57,632.96 694.42,634.12 690.27,635.28 686.11,636.43 681.96,637.56 677.81,638.68 673.66,639.78 669.50,640.87 665.35,641.93 661.20,642.97 657.05,643.98 652.89,644.96 648.74,645.90 644.59,646.83 640.44,647.75 636.28,648.65 632.13,649.55 627.98,650.43 623.83,651.31 619.67,652.17 615.52,653.02 611.37,653.86 607.22,654.69 603.06,655.51 598.91,656.32 594.76,657.11 590.61,657.89 586.45,658.66 582.30,659.42 578.15,660.17 574.00,660.90 569.84,661.63 565.69,662.34 561.54,663.03 557.39,663.72 553.23,664.39 549.08,665.05 544.93,665.70 540.77,666.35 536.62,667.00 532.47,667.65 528.32,668.28 524.16,668.92 520.01,669.54 515.86,670.16 511.71,670.77 507.55,671.37 503.40,671.97 499.25,672.54 495.10,673.11 490.94,673.67 486.79,674.21 482.64,674.74 478.49,675.25 474.33,675.74 470.18,676.22 466.03,676.68 461.88,677.12 457.72,677.54 453.57,677.94 449.42,678.32 445.27,678.68 441.11,679.03 436.96,679.38 432.81,679.71 428.66,680.04 424.50,680.36 420.35,680.67 416.20,680.98 412.05,681.27 407.89,681.57 403.74,681.85 399.59,682.13 395.43,682.40 391.28,682.67 387.13,682.93 382.98,683.19 378.82,683.45 374.67,683.70 370.52,683.94 366.37,684.18 362.21,684.42 358.06,684.66 353.91,684.90 349.76,685.13 345.60,685.36 341.45,685.59 337.30,685.81 333.15,686.04 328.99,686.27 324.84,686.49 320.69,686.72 316.54,686.94 312.38,687.17 308.23,687.40 304.08,687.63 299.93,687.86 295.77,688.09 291.62,688.33 287.47,688.56 283.32,688.80 279.16,689.05 275.01,689.30 270.86,689.55 266.71,689.80 262.55,690.05 258.40,690.30 257.68,688.58 255.95,688.58 254.21,688.58 252.48,688.57 250.74,688.57 249.01,688.57 247.27,688.57 245.54,688.57 243.80,688.57 242.07,688.57 240.33,688.57 238.60,688.57 236.86,688.56 235.13,688.57 233.39,688.57 231.66,688.57 229.92,688.57 228.19,688.57 226.45,688.57 224.72,688.57 222.98,688.57 221.25,688.57 219.51,688.58 217.77,688.58 216.04,688.58 214.30,688.59 212.57,688.59 210.83,688.59 209.10,688.60 207.36,688.60 205.63,688.61 203.89,688.61 202.16,688.61 200.42,688.62 198.69,688.63 196.95,688.63 195.22,688.64 193.48,688.64 191.75,688.65 190.01,688.66 188.28,688.66 186.54,688.67 184.81,688.68 183.07,688.69 181.34,688.69 179.60,688.70 177.87,688.71 176.13,688.72 174.40,688.73 172.66,688.74 170.93,688.75 169.19,688.76 167.46,688.77 165.72,688.78 163.98,688.79 162.25,688.80 160.51,688.81 158.78,688.82 157.04,688.83 155.31,688.84 153.57,688.85 151.84,688.87 150.10,688.88 148.37,688.89 146.63,688.90 144.90,688.91 143.16,688.93 141.43,688.94 139.69,688.95 137.96,688.97 136.22,688.98 134.49,688.99 132.75,689.01 131.02,689.02 129.28,689.03 127.55,689.05 125.81,689.06 124.08,689.08 122.34,689.09 120.61,689.11 118.87,689.12 117.14,689.13 115.40,689.15 113.67,689.16 111.93,689.18 110.20,689.19 108.46,689.21 106.72,689.22 104.99,689.24 103.25,689.25 101.52,689.27 99.78,689.28 98.05,689.30 96.31,689.31 94.58,689.33 92.84,689.34 91.11,689.36 89.37,689.37 87.64,689.39 85.90,689.40 84.17,689.42 82.43,689.43 80.70,689.44 78.96,689.46 77.23,689.47 75.49,689.49 73.76,689.50 72.02,689.51 70.29,689.53 68.55,689.54 66.82,689.55 65.08,689.56 63.35,689.58 61.61,689.59 59.88,689.60 58.14,689.61 56.41,689.62 54.67,689.64 52.94,689.65 51.20,689.66" fill="#eff6fe"/>
<polygon points="275.30,597.20 280.36,596.51 285.41,595.82 290.47,595.13 295.53,594.44 300.59,593.75 305.64,593.06 310.70,592.38 315.76,591.70 320.82,591.02 325.87,590.34 330.93,589.66 335.99,588.99 341.05,588.33 346.10,587.66 351.16,587.00 356.22,586.34 361.28,585.69 366.33,585.04 371.39,584.39 376.45,583.75 381.51,583.11 386.56,582.48 391.62,581.85 396.68,581.23 401.74,580.61 406.79,580.00 411.85,579.39 416.91,578.79 421.97,578.19 427.02,577.60 432.08,577.02 437.14,576.44 442.19,575.87 447.25,575.30 452.31,574.74 457.37,574.19 462.42,573.64 467.48,573.10 472.54,572.57 477.60,572.04 482.65,571.52 487.71,571.01 492.77,570.50 497.83,570.00 502.88,569.51 507.94,569.03 513.00,568.55 518.06,568.08 523.11,567.62 528.17,567.17 533.23,566.73 538.29,566.29 543.34,565.86 548.40,565.44 553.46,565.03 558.52,564.62 563.57,564.23 568.63,563.84 573.69,563.46 578.75,563.09 583.80,562.73 588.86,562.37 593.92,562.03 598.97,561.69 604.03,561.36 609.09,561.04 614.15,560.73 619.20,560.43 624.26,560.13 629.32,559.85 634.38,559.57 639.43,559.30 644.49,559.05 649.55,558.80 654.61,558.56 659.66,558.32 664.72,558.10 669.78,557.89 674.84,557.68 679.89,557.48 684.95,557.30 690.01,557.12 695.07,556.95 700.12,556.79 705.18,556.63 710.24,556.49 715.30,556.36 720.35,556.23 725.41,556.11 730.47,556.00 735.53,555.90 740.58,555.81 745.64,555.73 750.70,555.65 755.75,555.59 760.81,555.53 765.87,555.48 770.93,555.44 775.98,555.41 781.04,555.38 786.10,555.37 791.16,555.36 796.21,555.36 801.27,555.37 806.33,555.38 811.39,555.40 816.44,555.44 821.50,555.47 826.56,555.52 831.62,555.57 836.67,555.64 841.73,555.70 846.79,555.78 851.85,555.86 856.90,555.95 861.96,556.05 867.02,556.15 872.08,556.26 877.13,556.38 877.13,556.06 872.98,562.00 868.83,567.29 864.68,571.71 860.52,575.09 856.37,577.74 852.22,579.97 848.07,581.95 843.91,583.79 839.76,585.46 835.61,586.99 831.45,588.46 827.30,589.91 823.15,591.40 819.00,593.00 814.84,594.68 810.69,596.41 806.54,598.14 802.39,599.81 798.23,601.40 794.08,602.90 789.93,604.37 785.78,605.80 781.62,607.21 777.47,608.58 773.32,609.93 769.17,611.27 765.01,612.59 760.86,613.91 756.71,615.21 752.56,616.52 748.40,617.83 744.25,619.14 740.10,620.45 735.95,621.76 731.79,623.06 727.64,624.35 723.49,625.62 719.34,626.89 715.18,628.14 711.03,629.38 706.88,630.59 702.73,631.79 698.57,632.96 694.42,634.12 690.27,635.28 686.11,636.43 681.96,637.56 677.81,638.68 673.66,639.78 669.50,640.87 665.35,641.93 661.20,642.97 657.05,643.98 652.89,644.96 648.74,645.90 644.59,646.83 640.44,647.75 636.28,648.65 632.13,649.55 627.98,650.43 623.83,651.31 619.67,652.17 615.52,653.02 611.37,653.86 607.22,654.69 603.06,655.51 598.91,656.32 594.76,657.11 590.61,657.89 586.45,658.66 582.30,659.42 578.15,660.17 574.00,660.90 569.84,661.63 565.69,662.34 561.54,663.03 557.39,663.72 553.23,664.39 549.08,665.05 544.93,665.70 540.77,666.35 536.62,667.00 532.47,667.65 528.32,668.28 524.16,668.92 520.01,669.54 515.86,670.16 511.71,670.77 507.55,671.37 503.40,671.97 499.25,672.54 495.10,673.11 490.94,673.67 486.79,674.21 482.64,674.74 478.49,675.25 474.33,675.74 470.18,676.22 466.03,676.68 461.88,677.12 457.72,677.54 453.57,677.94 449.42,678.32 445.27,678.68 441.11,679.03 436.96,679.38 432.81,679.71 428.66,680.04 424.50,680.36 420.35,680.67 416.20,680.98 412.05,681.27 407.89,681.57 403.74,681.85 399.59,682.13 395.43,682.40 391.28,682.67 387.13,682.93 382.98,683.19 378.82,683.45 374.67,683.70 370.52,683.94 366.37,684.18 362.21,684.42 358.06,684.66 353.91,684.90 349.76,685.13 345.60,685.36 341.45,685.59 337.30,685.81 333.15,686.04 328.99,686.27 324.84,686.49 320.69,686.72 316.54,686.94 312.38,687.17 308.23,687.40 304.08,687.63 299.93,687.86 295.77,688.09 291.62,688.33 287.47,688.56 283.32,688.80 279.16,689.05 275.01,689.30 270.86,689.55 266.71,689.80 262.55,690.05 258.40,690.30 257.68,688.58 256.42,688.58 255.15,688.58 253.89,688.58 252.63,688.57 251.36,688.57 250.10,688.57 248.83,688.57 247.57,688.57 246.30,688.57 245.04,688.57 243.78,688.57 242.51,688.57 241.25,688.57 239.98,688.57 238.72,688.57 237.45,688.56 236.19,688.56 234.92,688.57 233.66,688.57 232.40,688.57 231.13,688.57 229.87,688.57 228.60,688.57 227.34,688.57 226.07,688.57 224.81,688.57 223.55,688.57 222.28,688.57 221.02,688.58 219.75,688.58 218.49,688.58 217.22,688.58 215.96,688.58 214.70,688.58 213.43,688.59 212.17,688.59 210.90,688.59 209.64,688.60 208.37,688.60 207.11,688.60 205.84,688.60 204.58,688.61 203.32,688.61 202.05,688.61 200.79,688.62 199.52,688.62 198.26,688.63 196.99,688.63 195.73,688.64 194.47,688.64 193.20,688.64 191.94,688.65 190.67,688.65 189.41,688.66 188.14,688.66 186.88,688.67 185.62,688.67 184.35,688.68 183.09,688.69 181.82,688.69 180.56,688.70 179.29,688.70 178.03,688.71 176.76,688.72 175.50,688.72 174.24,688.73 172.97,688.74 171.71,688.74 170.44,688.75 169.18,688.76 167.91,688.76 166.65,688.77 165.39,688.78 164.12,688.79 162.86,688.79 161.59,688.80 160.33,688.81 159.06,688.82 157.80,688.83 156.53,688.83 155.27,688.84 154.01,688.85 152.74,688.86 151.48,688.87 150.21,688.88 148.95,688.89 147.68,688.89 146.42,688.90 145.16,688.91 143.89,688.92 142.63,688.93 141.36,688.94 140.10,688.95 138.83,688.96 137.57,688.97 136.31,688.98 135.04,688.99 133.78,689.00 132.51,689.01 131.25,689.02 129.98,689.03 128.72,689.04 127.45,689.05 126.19,689.06 124.93,689.07 123.66,689.08 122.40,689.09 121.13,689.10 119.87,689.11 118.60,689.12 117.34,689.13 116.08,689.14 114.81,689.15 113.55,689.16 112.28,689.18 111.02,689.19 109.75,689.20 108.49,689.21 107.22,689.22 107.22,690.52 108.64,690.40 110.05,690.28 111.46,690.16 112.87,690.02 114.29,689.89 115.70,689.74 117.11,689.59 118.52,689.43 119.94,689.26 121.35,689.09 122.76,688.91 124.17,688.73 125.59,688.53 127.00,688.33 128.41,688.12 129.82,687.91 131.24,687.68 132.65,687.45 134.06,687.21 135.47,686.96 136.89,686.70 138.30,686.43 139.71,686.16 141.12,685.88 142.53,685.58 143.95,685.28 145.36,684.97 146.77,684.65 148.18,684.32 149.60,683.98 151.01,683.63 152.42,683.26 153.83,682.89 155.25,682.51 156.66,682.12 158.07,681.72 159.48,681.31 160.90,680.88 162.31,680.45 163.72,680.00 165.13,679.54 166.55,679.07 167.96,678.59 169.37,678.10 170.78,677.60 172.20,677.08 173.61,676.55 175.02,676.01 176.43,675.46 177.84,674.89 179.26,674.31 180.67,673.72 182.08,673.12 183.49,672.50 184.91,671.87 186.32,671.22 187.73,670.56 189.14,669.89 190.56,669.20 191.97,668.50 193.38,667.79 194.79,667.06 196.21,666.32 197.62,665.56 199.03,664.79 200.44,664.00 201.86,663.20 203.27,662.38 204.68,661.55 206.09,660.70 207.51,659.83 208.92,658.95 210.33,658.06 211.74,657.15 213.15,656.22 214.57,655.27 215.98,654.31 217.39,653.34 218.80,652.34 220.22,651.33 221.63,650.30 223.04,649.26 224.45,648.20 225.87,647.12 227.28,646.02 228.69,644.90 230.10,643.77 231.52,642.62 232.93,641.45 234.34,640.26 235.75,639.05 237.17,637.83 238.58,636.59 239.99,635.32 241.40,634.04 242.81,632.74 244.23,631.42 245.64,630.08 247.05,628.72 248.46,627.34 249.88,625.94 251.29,624.52 252.70,623.09 254.11,621.63 255.53,620.15 256.94,618.65 258.35,617.13 259.76,615.58 261.18,614.02 262.59,612.44 264.00,610.83 265.41,609.20 266.83,607.56 268.24,605.88 269.65,604.19 271.06,602.48 272.48,600.74 273.89,598.98 275.30,597.20" fill="#d0dbe6"/>
<path d="M101 519V692M151 519V692M201 519V692M250 519V692M300 519V692M350 519V692M400 519V692M450 519V692M499 519V692M549 519V692M599 519V692M649 519V692M699 519V692M748 519V692M798 519V692M848 519V692M898 519V692M948 519V692" stroke="#b9bcc0" stroke-opacity="0.42" stroke-width="2" fill="none"/>
<path d="M52 663.5H958M52 634.5H958M52 605.5H958M52 576.5H958M52 547.5H958" stroke="#c4c6ca" stroke-opacity="0.68" stroke-width="1" fill="none"/>
<path d="M51 518H959" stroke="#9a9a9a" stroke-width="1.6"/>
<path d="M51.20 625.28L53.46 625.06L55.73 624.84L57.99 624.62L60.25 624.39L62.52 624.17L64.78 623.94L67.05 623.71L69.31 623.47L71.57 623.24L73.84 623.00L76.10 622.76L78.36 622.52L80.63 622.28L82.89 622.03L85.15 621.79L87.42 621.54L89.68 621.29L91.95 621.04L94.21 620.78L96.47 620.53L98.74 620.27L101.00 620.01L103.26 619.75L105.53 619.49L107.79 619.23L110.05 618.96L112.32 618.70L114.58 618.43L116.85 618.16L119.11 617.89L121.37 617.62L123.64 617.34L125.90 617.07L128.16 616.79L130.43 616.52L132.69 616.24L134.95 615.96L137.22 615.68L139.48 615.39L141.75 615.11L144.01 614.83L146.27 614.54L148.54 614.25L150.80 613.97L153.06 613.68L155.33 613.39L157.59 613.10L159.85 612.81L162.12 612.51L164.38 612.22L166.65 611.93L168.91 611.63L171.17 611.33L173.44 611.04L175.70 610.74L177.96 610.44L180.23 610.14L182.49 609.84L184.75 609.54L187.02 609.24L189.28 608.94L191.55 608.64L193.81 608.33L196.07 608.03L198.34 607.73L200.60 607.42L202.86 607.12L205.13 606.81L207.39 606.50L209.65 606.20L211.92 605.89L214.18 605.58L216.45 605.27L218.71 604.97L220.97 604.66L223.24 604.35L225.50 604.04L227.76 603.73L230.03 603.42L232.29 603.11L234.55 602.80L236.82 602.49L239.08 602.18L241.35 601.87L243.61 601.56L245.87 601.25L248.14 600.93L250.40 600.62L252.66 600.31L254.93 600.00L257.19 599.69L259.45 599.38L261.72 599.07L263.98 598.76L266.25 598.45L268.51 598.13L270.77 597.82L273.04 597.51L275.30 597.20" stroke="#03478a" stroke-width="1" fill="none" stroke-linecap="round" stroke-linejoin="round" />
<path d="M51.20 633.32L53.46 633.10L55.73 632.88L57.99 632.67L60.25 632.44L62.52 632.22L64.78 632.00L67.05 631.77L69.31 631.54L71.57 631.31L73.84 631.08L76.10 630.84L78.36 630.60L80.63 630.37L82.89 630.13L85.15 629.88L87.42 629.64L89.68 629.40L91.95 629.15L94.21 628.90L96.47 628.65L98.74 628.40L101.00 628.15L103.26 627.89L105.53 627.63L107.79 627.38L110.05 627.12L112.32 626.86L114.58 626.60L116.85 626.33L119.11 626.07L121.37 625.80L123.64 625.54L125.90 625.27L128.16 625.00L130.43 624.73L132.69 624.46L134.95 624.18L137.22 623.91L139.48 623.63L141.75 623.36L144.01 623.08L146.27 622.80L148.54 622.52L150.80 622.24L153.06 621.96L155.33 621.68L157.59 621.40L159.85 621.12L162.12 620.83L164.38 620.55L166.65 620.26L168.91 619.97L171.17 619.69L173.44 619.40L175.70 619.11L177.96 618.82L180.23 618.53L182.49 618.24L184.75 617.95L187.02 617.66L189.28 617.36L191.55 617.07L193.81 616.78L196.07 616.48L198.34 616.19L200.60 615.89L202.86 615.60L205.13 615.30L207.39 615.01L209.65 614.71L211.92 614.41L214.18 614.12L216.45 613.82L218.71 613.52L220.97 613.23L223.24 612.93L225.50 612.63L227.76 612.33L230.03 612.03L232.29 611.74L234.55 611.44L236.82 611.14L239.08 610.84L241.35 610.54L243.61 610.24L245.87 609.94L248.14 609.65L250.40 609.35L252.66 609.05L254.93 608.75L257.19 608.45L259.45 608.15L261.72 607.86L263.98 607.56L266.25 607.26L268.51 606.96L270.77 606.67L273.04 606.37L275.30 606.07" stroke="#03478a" stroke-width="1" fill="none" stroke-linecap="round" stroke-linejoin="round" />
<path d="M51.20 672.47 L275.30 672.47" stroke="#555" stroke-width="1" fill="none" stroke-linecap="round" stroke-linejoin="round" />
<path d="M51.20 689.66L54.15 689.64L57.10 689.62L60.05 689.60L62.99 689.58L65.94 689.56L68.89 689.54L71.84 689.51L74.79 689.49L77.74 689.47L80.69 689.44L83.64 689.42L86.58 689.39L89.53 689.37L92.48 689.35L95.43 689.32L98.38 689.29L101.33 689.27L104.28 689.24L107.22 689.22" stroke="#03478a" stroke-width="1" fill="none" stroke-linecap="round" stroke-linejoin="round" />
<path d="M51.20 690.48L54.15 690.47L57.10 690.45L60.05 690.43L62.99 690.41L65.94 690.39L68.89 690.36L71.84 690.34L74.79 690.32L77.74 690.30L80.69 690.27L83.64 690.25L86.58 690.23L89.53 690.20L92.48 690.18L95.43 690.15L98.38 690.13L101.33 690.11L104.28 690.08L107.22 690.06" stroke="#03478a" stroke-width="1" fill="none" stroke-linecap="round" stroke-linejoin="round" />
<path d="M107.22 689.22L111.08 689.19L114.94 689.15L118.80 689.12L122.66 689.09L126.51 689.06L130.37 689.03L134.23 689.00L138.09 688.97L141.95 688.94L145.80 688.91L149.66 688.88L153.52 688.85L157.38 688.83L161.24 688.80L165.09 688.78L168.95 688.76L172.81 688.74L176.67 688.72L180.53 688.70L184.38 688.68L188.24 688.66L192.10 688.65L195.96 688.63L199.81 688.62L203.67 688.61L207.53 688.60L211.39 688.59L215.25 688.58L219.10 688.58L222.96 688.57L226.82 688.57L230.68 688.57L234.54 688.57L238.39 688.57L242.25 688.57L246.11 688.57L249.97 688.57L253.83 688.58L257.68 688.58" stroke="#03478a" stroke-width="3" fill="none" stroke-linecap="round" stroke-linejoin="round" />
<path d="M107.22 690.06L111.08 690.03L114.94 689.99L118.80 689.96L122.66 689.93L126.51 689.90L130.37 689.87L134.23 689.85L138.09 689.82L141.95 689.79L145.80 689.76L149.66 689.74L153.52 689.72L157.38 689.69L161.24 689.67L165.09 689.65L168.95 689.63L172.81 689.61L176.67 689.59L180.53 689.57L184.38 689.56L188.24 689.54L192.10 689.53L195.96 689.52L199.81 689.51L203.67 689.50L207.53 689.49L211.39 689.48L215.25 689.48L219.10 689.47L222.96 689.47L226.82 689.46L230.68 689.46L234.54 689.46L238.39 689.46L242.25 689.46L246.11 689.46L249.97 689.47L253.83 689.47L257.68 689.47" stroke="#03478a" stroke-width="2.4" fill="none" stroke-linecap="round" stroke-linejoin="round" />
<path d="M107.22 690.78L111.08 690.78L114.94 690.78L118.80 690.78L122.66 690.79L126.51 690.79L130.37 690.78L134.23 690.78L138.09 690.77L141.95 690.75L145.80 690.74L149.66 690.72L153.52 690.69L157.38 690.66L161.24 690.62L165.09 690.58L168.95 690.53L172.81 690.47L176.67 690.41L180.53 690.34L184.38 690.27L188.24 690.19L192.10 690.10L195.96 690.00L199.81 689.90L203.67 689.79L207.53 689.67L211.39 689.54L215.25 689.40L219.10 689.26L222.96 689.10L226.82 688.93L230.68 688.75L234.54 688.56L238.39 688.35L242.25 688.13L246.11 687.89L249.97 687.64L253.83 687.37L257.68 687.08" stroke="#000" stroke-width="3.2" fill="none" stroke-linecap="round" stroke-linejoin="round" />
<path d="M275.30 606.07L281.38 605.28L287.46 604.48L293.54 603.69L299.62 602.91L305.70 602.12L311.77 601.34L317.85 600.56L323.93 599.79L330.01 599.02L336.09 598.26L342.17 597.50L348.25 596.75L354.33 596.01L360.41 595.27L366.49 594.53L372.57 593.81L378.65 593.08L384.72 592.37L390.80 591.67L396.88 590.97L402.96 590.28L409.04 589.59L415.12 588.92L421.20 588.25L427.28 587.60L433.36 586.95L439.44 586.31L445.52 585.68L451.59 585.06L457.67 584.45L463.75 583.84L469.83 583.25L475.91 582.67L481.99 582.10L488.07 581.54L494.15 580.99L500.23 580.45L506.31 579.92L512.39 579.40L518.46 578.89L524.54 578.40L530.62 577.91L536.70 577.44L542.78 576.97L548.86 576.52L554.94 576.08L561.02 575.66L567.10 575.24L573.18 574.83L579.26 574.44L585.34 574.06L591.41 573.69L597.49 573.33L603.57 572.98L609.65 572.65L615.73 572.33L621.81 572.01L627.89 571.72L633.97 571.43L640.05 571.15L646.13 570.89L652.21 570.64L658.28 570.40L664.36 570.17L670.44 569.95L676.52 569.74L682.60 569.55L688.68 569.36L694.76 569.19L700.84 569.03L706.92 568.88L713.00 568.74L719.08 568.62L725.15 568.50L731.23 568.39L737.31 568.30L743.39 568.21L749.47 568.14L755.55 568.07L761.63 568.02L767.71 567.97L773.79 567.93L779.87 567.91L785.95 567.89L792.03 567.88L798.10 567.89L804.18 567.90L810.26 567.91L816.34 567.94L822.42 567.98L828.50 568.02L834.58 568.07L840.66 568.13L846.74 568.20L852.82 568.27L858.90 568.35L864.97 568.43L871.05 568.52L877.13 568.62" stroke="#03478a" stroke-width="2.4" fill="none" stroke-linecap="round" stroke-linejoin="round" />
<path d="M275.30 597.20L281.38 596.37L287.46 595.54L293.54 594.71L299.62 593.88L305.70 593.05L311.77 592.23L317.85 591.41L323.93 590.60L330.01 589.79L336.09 588.98L342.17 588.18L348.25 587.38L354.33 586.59L360.41 585.80L366.49 585.02L372.57 584.24L378.65 583.47L384.72 582.71L390.80 581.95L396.88 581.20L402.96 580.46L409.04 579.73L415.12 579.00L421.20 578.28L427.28 577.57L433.36 576.87L439.44 576.18L445.52 575.49L451.59 574.82L457.67 574.15L463.75 573.50L469.83 572.85L475.91 572.21L481.99 571.59L488.07 570.97L494.15 570.36L500.23 569.77L506.31 569.18L512.39 568.61L518.46 568.05L524.54 567.50L530.62 566.95L536.70 566.43L542.78 565.91L548.86 565.40L554.94 564.91L561.02 564.43L567.10 563.96L573.18 563.50L579.26 563.05L585.34 562.62L591.41 562.20L597.49 561.79L603.57 561.39L609.65 561.01L615.73 560.63L621.81 560.27L627.89 559.93L633.97 559.59L640.05 559.27L646.13 558.96L652.21 558.67L658.28 558.39L664.36 558.12L670.44 557.86L676.52 557.61L682.60 557.38L688.68 557.16L694.76 556.96L700.84 556.76L706.92 556.58L713.00 556.42L719.08 556.26L725.15 556.12L731.23 555.99L737.31 555.87L743.39 555.76L749.47 555.67L755.55 555.59L761.63 555.52L767.71 555.46L773.79 555.42L779.87 555.39L785.95 555.37L792.03 555.36L798.10 555.36L804.18 555.37L810.26 555.40L816.34 555.43L822.42 555.48L828.50 555.54L834.58 555.61L840.66 555.69L846.74 555.78L852.82 555.88L858.90 555.99L864.97 556.11L871.05 556.24L877.13 556.38" stroke="#03478a" stroke-width="3.2" fill="none" stroke-linecap="round" stroke-linejoin="round" />
<path d="M275.30 672.47L281.38 672.47L287.46 672.48L293.54 672.50L299.62 672.51L305.70 672.52L311.77 672.54L317.85 672.55L323.93 672.56L330.01 672.57L336.09 672.57L342.17 672.57L348.25 672.57L354.33 672.56L360.41 672.55L366.49 672.52L372.57 672.49L378.65 672.46L384.72 672.41L390.80 672.36L396.88 672.30L402.96 672.23L409.04 672.15L415.12 672.06L421.20 671.95L427.28 671.84L433.36 671.72L439.44 671.58L445.52 671.43L451.59 671.27L457.67 671.10L463.75 670.92L469.83 670.72L475.91 670.51L481.99 670.28L488.07 670.04L494.15 669.79L500.23 669.52L506.31 669.24L512.39 668.95L518.46 668.64L524.54 668.31L530.62 667.97L536.70 667.61L542.78 667.24L548.86 666.86L554.94 666.45L561.02 666.03L567.10 665.60L573.18 665.15L579.26 664.68L585.34 664.19L591.41 663.69L597.49 663.17L603.57 662.63L609.65 662.08L615.73 661.51L621.81 660.92L627.89 660.30L633.97 659.68L640.05 659.03L646.13 658.36L652.21 657.67L658.28 656.97L664.36 656.24L670.44 655.49L676.52 654.72L682.60 653.93L688.68 653.11L694.76 652.28L700.84 651.42L706.92 650.53L713.00 649.63L719.08 648.69L725.15 647.74L731.23 646.75L737.31 645.74L743.39 644.71L749.47 643.64L755.55 642.55L761.63 641.43L767.71 640.28L773.79 639.09L779.87 637.88L785.95 636.63L792.03 635.35L798.10 634.03L804.18 632.68L810.26 631.29L816.34 629.87L822.42 628.40L828.50 626.90L834.58 625.36L840.66 623.77L846.74 622.14L852.82 620.46L858.90 618.74L864.97 616.97L871.05 615.15L877.13 613.28" stroke="#000" stroke-width="3.2" fill="none" stroke-linecap="round" stroke-linejoin="round" />
<circle cx="666.23" cy="558.8" r="6.45" fill="#ff0000"/>
<circle cx="666.23" cy="570.5" r="6.45" fill="#ff0000"/>
<circle cx="666.23" cy="656.3" r="6.45" fill="#ff0000"/>
<path d="M51.25 518V692" stroke="#000" stroke-width="1.5"/>
<path d="M959 518V692.5" stroke="#000" stroke-width="2"/>
<path d="M51 692.5H960" stroke="#000" stroke-width="1.2"/>
<path d="M44 692.5H51M959 692.5H966M44 663.5H51M959 663.5H966M44 634.5H51M959 634.5H966M44 605.5H51M959 605.5H966M44 576.5H51M959 576.5H966M44 547.5H51M959 547.5H966" stroke="#000" stroke-width="1.4"/>
<text x="25.5" y="532.5" text-anchor="middle">P</text>
<text x="8.5" y="553.3" textLength="33" lengthAdjust="spacingAndGlyphs">[kW]</text>
<text x="38.5" y="697.0" text-anchor="end">0.0</text>
<text x="38.5" y="668.0" text-anchor="end">0.5</text>
<text x="38.5" y="639.0" text-anchor="end">1.0</text>
<text x="38.5" y="610.0" text-anchor="end">1.5</text>
<text x="38.5" y="581.0" text-anchor="end">2.0</text>
<text x="990.5" y="532.8" text-anchor="middle">NPSH</text>
<text x="990.5" y="552" text-anchor="middle">[m]</text>
<text x="970.5" y="697.0">0</text>
<text x="970.5" y="668.0">2</text>
<text x="970.5" y="639.0">4</text>
<text x="970.5" y="610.0">6</text>
<text x="970.5" y="581.0">8</text>
<text x="668.5" y="550.8" style="fill:#03478a">P1 (motor+freq.converter)</text>
<text x="850.5" y="586.9" style="fill:#03478a">P2</text>
<text x="54" y="719.2">P1 (motor+freq.converter) = 2.298 kW</text>
<text x="54" y="740.0">P2 = 2.097 kW</text>
<text x="54" y="762.0">NPSH = 2.49 m</text>
</svg></body></html>
